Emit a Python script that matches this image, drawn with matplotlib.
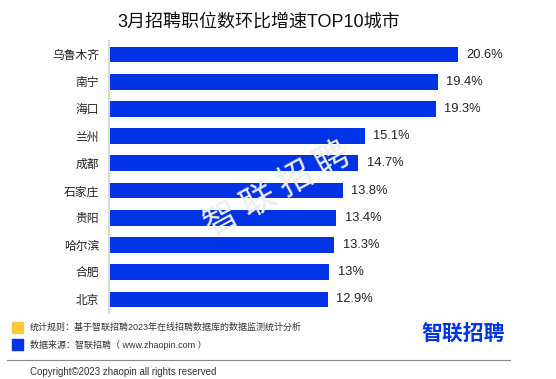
import matplotlib
matplotlib.use('Agg')
import numpy as np
import matplotlib.pyplot as plt
from matplotlib.patches import Rectangle

plt.rcParams['font.family'] = ['Liberation Sans', 'Noto Sans CJK SC', 'DejaVu Sans']

# data
cities = ['乌鲁木齐', '南宁', '海口', '兰州', '成都', '石家庄', '贵阳', '哈尔滨', '合肥', '北京']
values = [20.6, 19.4, 19.3, 15.1, 14.7, 13.8, 13.4, 13.3, 13.0, 12.9]
labels = ['20.6%', '19.4%', '19.3%', '15.1%', '14.7%', '13.8%', '13.4%', '13.3%', '13%', '12.9%']

blue = '#0033e6'
yellow = '#ffc83d'

W, H = 556, 379
fig = plt.figure(figsize=(5.56, 3.79), dpi=100)
fig.patch.set_facecolor('white')

# watermark, one char at a time (spaced out)
ang = 28.5
step = 42
for k, ch in enumerate('智联招聘'):
    d = (k - 1.5) * step
    cx = 277 + d * np.cos(np.radians(ang))
    cy = 190 - d * np.sin(np.radians(ang))
    fig.text(cx / W, 1 - cy / H, ch, fontsize=25, color='#ededed', rotation=ang,
             ha='center', va='center', zorder=0, family='Noto Sans CJK SC')

ax = fig.add_axes([0.196, 0.174, 0.704, 0.718])
ax.patch.set_alpha(0)
y = range(len(cities))
ax.barh(y, values, height=0.58, color=blue, zorder=2)
for i, (v, lab) in enumerate(zip(values, labels)):
    ax.text(v + 0.5, i, lab, va='center', ha='left', fontsize=9.3, color='#222222')
ax.set_yticks(list(y))
ax.set_yticklabels(cities, fontsize=8.5, color='#222222')
ax.set_ylim(9.5, -0.5)
ax.set_xlim(0, 23.1)
ax.set_xticks([])
ax.tick_params(axis='y', length=0, pad=7)
for s in ['top', 'right', 'bottom']:
    ax.spines[s].set_visible(False)
ax.spines['left'].set_color('#d9d9d9')
ax.spines['left'].set_linewidth(1.5)

fig.text(259 / W, 1 - 22 / H, '3月招聘职位数环比增速TOP10城市', fontsize=13, ha='center',
         va='center', color='#111111')

# legend / notes
fig.patches.append(Rectangle((12 / W, 1 - 333 / H), 11 / W, 11.5 / H,
                             transform=fig.transFigure, color=yellow))
fig.patches.append(Rectangle((12 / W, 1 - 350 / H), 11 / W, 11.5 / H,
                             transform=fig.transFigure, color=blue))
fig.text(30 / W, 1 - 327 / H, '统计规则：基于智联招聘2023年在线招聘数据库的数据监测统计分析',
         fontsize=6.5, va='center', color='#333333')
fig.text(30 / W, 1 - 345 / H, '数据来源：智联招聘（ www.zhaopin.com ）',
         fontsize=6.5, va='center', color='#333333')
fig.text(463 / W, 1 - 335 / H, '智联招聘', fontsize=15, fontweight='bold',
         color=blue, ha='center', va='center')

fig.add_artist(plt.Line2D([7 / W, 510 / W], [1 - 360 / H, 1 - 360 / H],
                          color='#888888', linewidth=0.8))
fig.text(30 / W, 1 - 372 / H, 'Copyright©2023 zhaopin all rights reserved',
         fontsize=7.05, va='center', color='#333333')

fig.savefig('out.png', dpi=100)
